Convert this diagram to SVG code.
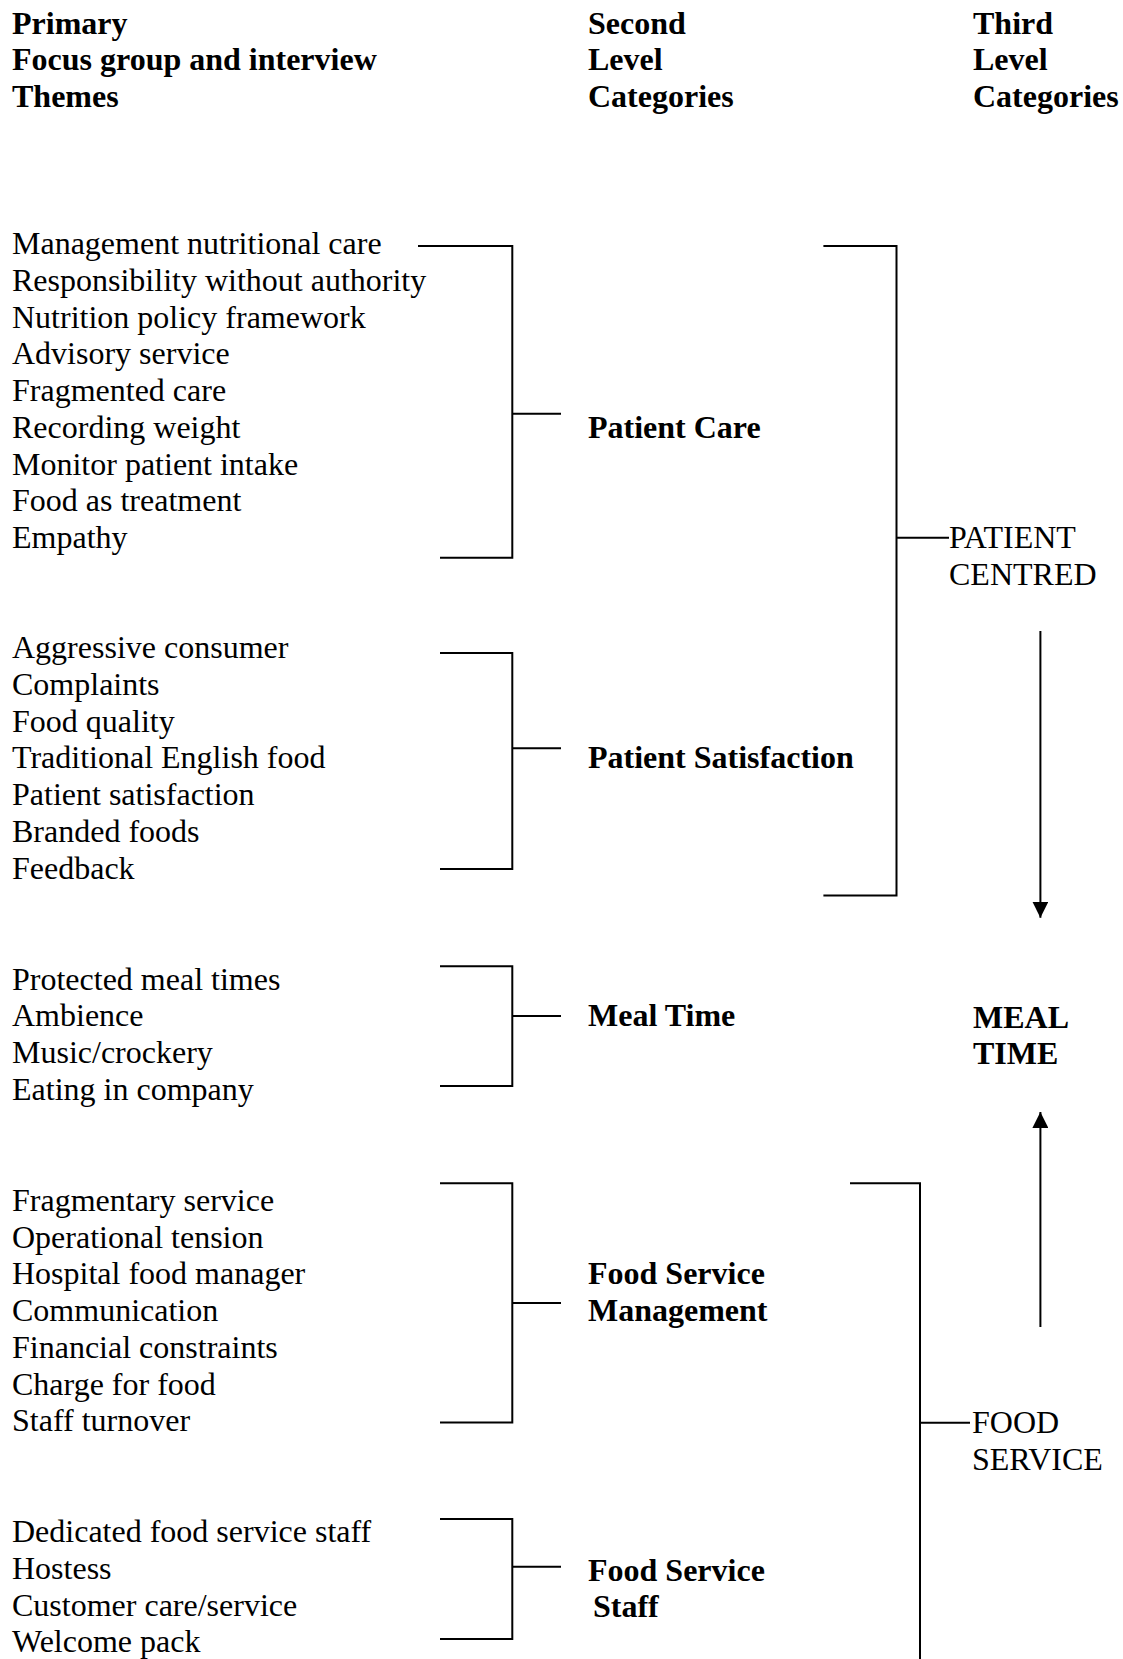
<svg xmlns="http://www.w3.org/2000/svg" width="1123" height="1659" viewBox="0 0 1123 1659">
<defs>
<style>
.t{font-family:"Liberation Serif","Times New Roman",serif;font-size:32px;fill:#000}
.b{font-weight:bold}
.ln{stroke:#000;stroke-width:2;fill:none}
</style>
<marker id="ah" viewBox="0 0 16 16" refX="16" refY="8" markerWidth="16" markerHeight="16" markerUnits="userSpaceOnUse" orient="auto">
<path d="M0,0 L16,8 L0,16 Z" fill="#000"/>
</marker>
</defs>
<rect width="1123" height="1659" fill="#fff"/>
<g id="headers">
<text class="t b" x="12" y="33.5">Primary</text>
<text class="t b" x="12" y="70.3">Focus group and interview</text>
<text class="t b" x="12" y="107.1">Themes</text>
<text class="t b" x="588" y="33.5">Second</text>
<text class="t b" x="588" y="70.3">Level</text>
<text class="t b" x="588" y="107.1">Categories</text>
<text class="t b" x="973" y="33.5">Third</text>
<text class="t b" x="973" y="70.3">Level</text>
<text class="t b" x="973" y="107.1">Categories</text>
</g>
<g id="themes-patient-care">
<text class="t" x="12" y="254">Management nutritional care</text>
<text class="t" x="12" y="290.7">Responsibility without authority</text>
<text class="t" x="12" y="327.5">Nutrition policy framework</text>
<text class="t" x="12" y="364.2">Advisory service</text>
<text class="t" x="12" y="401">Fragmented care</text>
<text class="t" x="12" y="437.7">Recording weight</text>
<text class="t" x="12" y="474.5">Monitor patient intake</text>
<text class="t" x="12" y="511.2">Food as treatment</text>
<text class="t" x="12" y="548">Empathy</text>
</g>
<g id="themes-patient-satisfaction">
<text class="t" x="12" y="658">Aggressive consumer</text>
<text class="t" x="12" y="694.8">Complaints</text>
<text class="t" x="12" y="731.5">Food quality</text>
<text class="t" x="12" y="768.3">Traditional English food</text>
<text class="t" x="12" y="805">Patient satisfaction</text>
<text class="t" x="12" y="841.8">Branded foods</text>
<text class="t" x="12" y="878.5">Feedback</text>
</g>
<g id="themes-meal-time">
<text class="t" x="12" y="989.5">Protected meal times</text>
<text class="t" x="12" y="1026.3">Ambience</text>
<text class="t" x="12" y="1063">Music/crockery</text>
<text class="t" x="12" y="1099.8">Eating in company</text>
</g>
<g id="themes-food-service-management">
<text class="t" x="12" y="1210.7">Fragmentary service</text>
<text class="t" x="12" y="1247.5">Operational tension</text>
<text class="t" x="12" y="1284.2">Hospital food manager</text>
<text class="t" x="12" y="1321">Communication</text>
<text class="t" x="12" y="1357.7">Financial constraints</text>
<text class="t" x="12" y="1394.5">Charge for food</text>
<text class="t" x="12" y="1431.2">Staff turnover</text>
</g>
<g id="themes-food-service-staff">
<text class="t" x="12" y="1542">Dedicated food service staff</text>
<text class="t" x="12" y="1578.7">Hostess</text>
<text class="t" x="12" y="1615.5">Customer care/service</text>
<text class="t" x="12" y="1652.2">Welcome pack</text>
</g>
<g id="cat-patient-care"><text class="t b" x="588" y="437.7">Patient Care</text></g>
<g id="cat-patient-satisfaction"><text class="t b" x="588" y="768.3">Patient Satisfaction</text></g>
<g id="cat-meal-time"><text class="t b" x="588" y="1026.3">Meal Time</text></g>
<g id="cat-food-service-management"><text class="t b" x="588" y="1284.2">Food Service</text><text class="t b" x="588" y="1321">Management</text></g>
<g id="cat-food-service-staff"><text class="t b" x="588" y="1580.5">Food Service</text><text class="t b" x="593" y="1617">Staff</text></g>
<g id="third-patient-centred"><text class="t" x="949" y="548">PATIENT</text><text class="t" x="949" y="584.8">CENTRED</text></g>
<g id="third-meal-time"><text class="t b" x="973" y="1027.5">MEAL</text><text class="t b" x="973" y="1064.3">TIME</text></g>
<g id="third-food-service"><text class="t" x="972" y="1432.5">FOOD</text><text class="t" x="972" y="1469.5">SERVICE</text></g>
<g id="connectors">
<path class="ln" d="M418,246 H512.3 V557.8 H440 M512.3,413.8 H561"/>
<path class="ln" d="M440,653 H512.3 V869 H440 M512.3,748.3 H561"/>
<path class="ln" d="M440,966.3 H512.3 V1086 H440 M512.3,1016 H561"/>
<path class="ln" d="M440,1183.3 H512.3 V1422.5 H440 M512.3,1303 H561"/>
<path class="ln" d="M440,1519 H512.3 V1639 H440 M512.3,1566.7 H561"/>
<path class="ln" d="M823.4,246 H896.5 V895.4 H823.4 M896.5,537.7 H949"/>
<path class="ln" d="M850,1183.3 H920 V1659 M920,1422.7 H970"/>
<path class="ln" d="M1040.4,631 V917.7" marker-end="url(#ah)"/>
<path class="ln" d="M1040.4,1327 V1112" marker-end="url(#ah)"/>
</g>
</svg>
